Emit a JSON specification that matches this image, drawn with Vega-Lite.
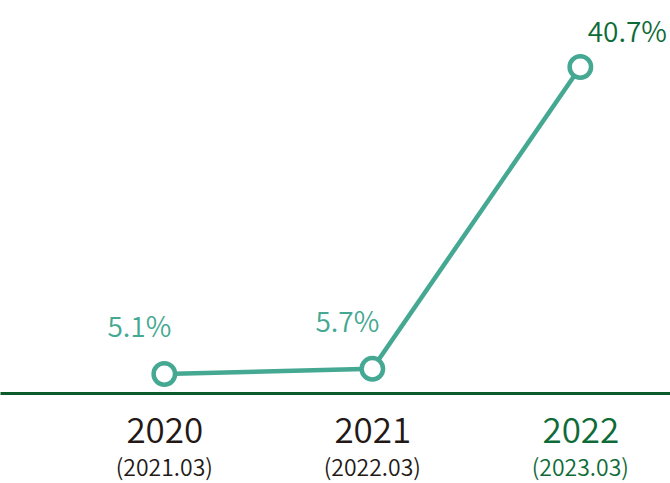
{
  "$schema": "https://vega.github.io/schema/vega-lite/v6.json",
  "width": 670,
  "height": 393,
  "autosize": "none",
  "padding": {"left": 0, "top": 0, "right": 0, "bottom": 90},
  "background": "white",
  "config": {"view": {"stroke": null}, "font": "Noto Sans CJK JP"},
  "data": {
    "values": [
      {"year": 2020, "fy": "(2021.03)", "rate": 5.1, "label": "5.1%"},
      {"year": 2021, "fy": "(2022.03)", "rate": 5.7, "label": "5.7%"},
      {"year": 2022, "fy": "(2023.03)", "rate": 40.7, "label": "40.7%"}
    ]
  },
  "encoding": {
    "x": {
      "field": "year",
      "type": "quantitative",
      "scale": {"domain": [2019.21, 2022.431], "nice": false, "zero": false},
      "axis": {
        "values": [2020, 2021, 2022],
        "format": "d",
        "title": null,
        "ticks": false,
        "grid": false,
        "domainColor": "#0b5a2a",
        "domainWidth": 3,
        "labelFontSize": 35,
        "labelFontWeight": 350,
        "labelFont": "Noto Sans CJK JP",
        "labelColor": {"condition": {"test": "datum.value == 2022", "value": "#0e6b37"}, "value": "#231815"},
        "labelPadding": 21,
        "labelFlush": false,
        "labelOverlap": false
      }
    },
    "y": {
      "field": "rate",
      "type": "quantitative",
      "scale": {"domain": [2.9, 48.47], "nice": false, "zero": false},
      "axis": null
    }
  },
  "layer": [
    {"mark": {"type": "line", "color": "#45a892", "strokeWidth": 4.5}},
    {"mark": {"type": "point", "shape": "circle", "filled": true, "fill": "white", "stroke": "#45a892", "strokeWidth": 4.5, "size": 460, "opacity": 1}},
    {
      "transform": [{"filter": "datum.rate < 10"}],
      "mark": {"type": "text", "fontSize": 28, "fontWeight": 350, "color": "#45a892", "dx": -25, "dy": -45, "baseline": "middle"},
      "encoding": {"text": {"field": "label"}}
    },
    {
      "transform": [{"filter": "datum.rate > 10"}],
      "mark": {"type": "text", "fontSize": 28, "fontWeight": 350, "color": "#0e6b37", "dx": 47, "dy": -33, "baseline": "middle"},
      "encoding": {"text": {"field": "label"}}
    },
    {
      "mark": {"type": "text", "fontSize": 23, "fontWeight": 350, "dy": 76, "baseline": "middle"},
      "encoding": {
        "y": {"datum": 2.9, "type": "quantitative"},
        "text": {"field": "fy"},
        "color": {"condition": {"test": "datum.year == 2022", "value": "#0e6b37"}, "value": "#231815"}
      }
    }
  ]
}
